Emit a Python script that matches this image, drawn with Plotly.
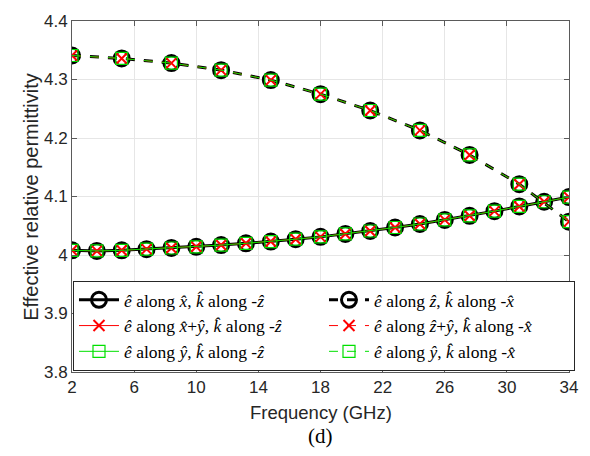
import plotly.graph_objects as go

# Frequency sweep points (GHz)
freq_kz = [2, 3.6, 5.2, 6.8, 8.4, 10, 11.6, 13.2, 14.8, 16.4, 18,
           19.6, 21.2, 22.8, 24.4, 26, 27.6, 29.2, 30.8, 32.4, 34]
freq_kx = [2, 5.2, 8.4, 11.6, 14.8, 18, 21.2, 24.4, 27.6, 30.8, 34]

# Effective relative permittivity, propagation along -z
eps_x_kz = [4.008, 4.007, 4.008, 4.010, 4.012, 4.014, 4.017, 4.020, 4.023, 4.027, 4.031,
            4.036, 4.041, 4.047, 4.053, 4.060, 4.067, 4.075, 4.083, 4.091, 4.099]
eps_xy_kz = [4.008, 4.007, 4.008, 4.010, 4.012, 4.014, 4.017, 4.020, 4.023, 4.027, 4.031,
             4.036, 4.041, 4.047, 4.053, 4.060, 4.067, 4.075, 4.083, 4.091, 4.099]
eps_y_kz = [4.008, 4.007, 4.008, 4.010, 4.012, 4.014, 4.017, 4.020, 4.023, 4.027, 4.031,
            4.036, 4.041, 4.047, 4.053, 4.060, 4.067, 4.075, 4.083, 4.091, 4.099]

# Effective relative permittivity, propagation along -x
eps_z_kx = [4.341, 4.336, 4.328, 4.316, 4.299, 4.275, 4.247, 4.213, 4.171, 4.121, 4.057]
eps_zy_kx = [4.341, 4.336, 4.328, 4.316, 4.299, 4.275, 4.247, 4.213, 4.171, 4.121, 4.057]
eps_y_kx = [4.341, 4.336, 4.328, 4.316, 4.299, 4.275, 4.247, 4.213, 4.171, 4.121, 4.057]

x_ticks = [2, 6, 10, 14, 18, 22, 26, 30, 34]
y_ticks = [3.8, 3.9, 4.0, 4.1, 4.2, 4.3, 4.4]
y_tick_text = ["3.8", "3.9", "4", "4.1", "4.2", "4.3", "4.4"]

labels = [
    "<i>ê</i> along <i>x\u0302</i>, <i>k\u0302</i> along -<i>ẑ</i>",
    "<i>ê</i> along <i>x\u0302</i>+<i>ŷ</i>, <i>k\u0302</i> along -<i>ẑ</i>",
    "<i>ê</i> along <i>ŷ</i>, <i>k\u0302</i> along -<i>ẑ</i>",
    "<i>ê</i> along <i>ẑ</i>, <i>k\u0302</i> along -<i>x\u0302</i>",
    "<i>ê</i> along <i>ẑ</i>+<i>ŷ</i>, <i>k\u0302</i> along -<i>x\u0302</i>",
    "<i>ê</i> along <i>ŷ</i>, <i>k\u0302</i> along -<i>x\u0302</i>",
]

black_m = dict(symbol="circle-open", size=15, color="black", line=dict(width=3, color="black"))
red_m = dict(symbol="x-thin-open", size=11, color="red", line=dict(width=2, color="red"))
green_m = dict(symbol="square-open", size=12, color="#00e000", line=dict(width=1.2, color="#00e000"))

series = [
    # x, y, label, colour, width, dash, marker, legend rank
    (freq_kz, eps_x_kz, labels[0], "black", 3, "solid", black_m, 1),
    (freq_kz, eps_xy_kz, labels[1], "red", 1, "solid", red_m, 3),
    (freq_kz, eps_y_kz, labels[2], "#00e000", 1, "solid", green_m, 5),
    (freq_kx, eps_z_kx, labels[3], "black", 3, "dash", black_m, 2),
    (freq_kx, eps_zy_kx, labels[4], "red", 1, "dash", red_m, 4),
    (freq_kx, eps_y_kx, labels[5], "#00e000", 1, "dash", green_m, 6),
]

fig = go.Figure()
for xs, ys, name, col, w, dash, mk, rank in series:
    fig.add_trace(go.Scatter(
        x=xs, y=ys, name=name, mode="lines+markers",
        line=dict(color=col, width=w, dash=dash),
        marker=mk, legendrank=rank,
    ))

axis_col = "#5a5a5a"
font_col = "#262626"
fig.update_layout(
    width=590, height=456,
    margin=dict(l=72, r=18, t=14, b=84),
    paper_bgcolor="white", plot_bgcolor="white",
    font=dict(family="Liberation Sans, Arial, sans-serif", size=16, color=font_col),
    xaxis=dict(
        range=[2, 34], tickvals=x_ticks, ticks="inside", ticklen=5,
        tickcolor=axis_col, showline=True, linecolor=axis_col, linewidth=1,
        mirror="ticks", showgrid=True, gridcolor="#e6e6e6", zeroline=False,
        tickfont=dict(size=17, color=font_col),
    ),
    yaxis=dict(
        range=[3.8, 4.4], tickvals=y_ticks, ticktext=y_tick_text, ticks="inside",
        ticklen=5, tickcolor=axis_col, showline=True, linecolor=axis_col,
        linewidth=1, mirror="ticks", showgrid=True, gridcolor="#e6e6e6",
        zeroline=False, tickfont=dict(size=17, color=font_col),
    ),
    showlegend=True,
    legend=dict(
        orientation="h", x=0.002, y=0.003, xanchor="left", yanchor="bottom",
        bgcolor="white", bordercolor="#262626", borderwidth=1,
        entrywidth=195, entrywidthmode="pixels",
        font=dict(family="Liberation Serif, Times New Roman, serif", size=17.5, color="black"),
        itemsizing="trace", itemwidth=40,
    ),
    annotations=[
        dict(text="Frequency (GHz)", x=0.5, y=(372 - 413) / 358, xref="paper", yref="paper",
             xanchor="center", yanchor="middle", showarrow=False,
             font=dict(size=18.5, color=font_col)),
        dict(text="(d)", x=0.5, y=(372 - 437) / 358, xref="paper", yref="paper",
             xanchor="center", yanchor="middle", showarrow=False,
             font=dict(family="Liberation Serif, Times New Roman, serif", size=21, color="black")),
        dict(text="Effective relative permittivity", x=(30 - 72) / 500, y=0.5,
             xref="paper", yref="paper", xanchor="center", yanchor="middle",
             textangle=-90, showarrow=False, font=dict(size=20, color=font_col)),
    ],
)

fig.write_html("out.html")
